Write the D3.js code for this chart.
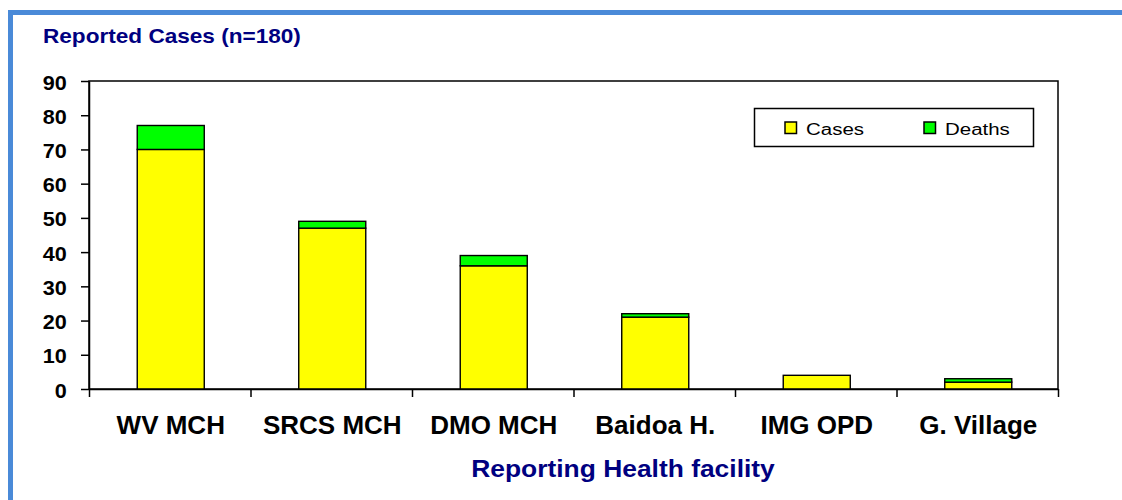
<!doctype html>
<html>
<head>
<meta charset="utf-8">
<script src="https://d3js.org/d3.v7.min.js"></script>
<style>
  body { margin: 0; background: #fff; }
  text { font-family: Arial, "Liberation Sans", sans-serif; }
</style>
</head>
<body>
<script>
  // data
  var facilities = ["WV MCH", "SRCS MCH", "DMO MCH", "Baidoa H.", "IMG OPD", "G. Village"];
  var cases  = [70, 47, 36, 21, 4, 2];
  var deaths = [7, 2, 3, 1, 0, 1];
  var yTicks = [0, 10, 20, 30, 40, 50, 60, 70, 80, 90];
  var seriesNames = ["Cases", "Deaths"];
  var seriesColors = ["#ffff00", "#00ff00"];

  var width = 1122, height = 500;
  var plot = { left: 89, right: 1058, top: 81, bottom: 389 };

  var svg = d3.select("body").append("svg")
    .attr("width", width).attr("height", height);

  svg.append("rect").attr("width", width).attr("height", height).attr("fill", "#fff");

  // blue frame
  svg.append("rect")
    .attr("x", 10.5).attr("y", 12.5)
    .attr("width", 1300).attr("height", 700)
    .attr("fill", "none").attr("stroke", "#4a8ad8").attr("stroke-width", 5);

  var x = d3.scaleBand().domain(facilities).range([plot.left, plot.right]).padding(0);
  var xEdge = d3.scaleLinear().domain([0, facilities.length]).range([plot.left, plot.right]);
  var y = d3.scaleLinear().domain([0, 90]).range([plot.bottom, plot.top]);

  // plot area border (top + right)
  svg.append("rect")
    .attr("x", plot.left).attr("y", plot.top)
    .attr("width", plot.right - plot.left).attr("height", plot.bottom - plot.top)
    .attr("fill", "none").attr("stroke", "#000").attr("stroke-width", 1.5);

  // stacked bars
  var table = facilities.map(function(f, i){ return { name: f, Cases: cases[i], Deaths: deaths[i] }; });
  var stacked = d3.stack().keys(seriesNames)(table);
  var barW = x.bandwidth() * 0.415;

  svg.append("g").selectAll("g")
    .data(stacked).enter().append("g")
      .attr("fill", function(d, i){ return seriesColors[i]; })
    .selectAll("rect")
    .data(function(d){ return d.filter(function(p){ return p[1] - p[0] > 0; }); })
    .enter().append("rect")
      .attr("x", function(d){ return x(d.data.name) + (x.bandwidth() - barW) / 2 + 1; })
      .attr("width", barW)
      .attr("y", function(d){ return y(d[1]); })
      .attr("height", function(d){ return y(d[0]) - y(d[1]); })
      .attr("stroke", "#000").attr("stroke-width", 1.4);

  // y axis
  var yAxis = svg.append("g")
    .attr("transform", "translate(" + plot.left + ",0)")
    .call(d3.axisLeft(y).tickValues(yTicks).tickSize(8).tickSizeOuter(0));
  yAxis.select(".domain").attr("stroke-width", 1.5);
  yAxis.selectAll(".tick line").attr("stroke-width", 1.5);
  yAxis.selectAll(".tick text")
    .attr("x", 0).attr("dy", "0.4em")
    .attr("transform", "translate(-22.3,0) scale(1.08,1)")
    .style("font-size", "20px").style("font-weight", "bold").attr("fill", "#000");

  // x axis: boundary ticks
  var xAxis = svg.append("g")
    .attr("transform", "translate(0," + plot.bottom + ")")
    .call(d3.axisBottom(xEdge).tickValues(d3.range(facilities.length + 1)).tickSize(8).tickSizeOuter(0).tickFormat(""));
  xAxis.select(".domain").attr("stroke-width", 1.5);
  xAxis.selectAll(".tick line").attr("stroke-width", 1.5);

  // x axis: category labels
  var xLabels = svg.append("g")
    .attr("transform", "translate(1," + plot.bottom + ")")
    .call(d3.axisBottom(x).tickSize(0));
  xLabels.select(".domain").remove();
  xLabels.selectAll(".tick text")
    .attr("y", 45).attr("dy", 0)
    .style("font-size", "26px").style("font-weight", "bold").attr("fill", "#000");

  // titles
  svg.append("text")
    .attr("transform", "translate(43,43) scale(1.076,1)")
    .attr("fill", "#000080").style("font-size", "21px").style("font-weight", "bold")
    .text("Reported Cases (n=180)");

  svg.append("text")
    .attr("transform", "translate(623,477) scale(1.1,1)")
    .attr("text-anchor", "middle")
    .attr("fill", "#000080").style("font-size", "24px").style("font-weight", "bold")
    .text("Reporting Health facility");

  // legend
  var legend = svg.append("g");
  legend.append("rect")
    .attr("x", 754.5).attr("y", 108.5).attr("width", 279).attr("height", 38)
    .attr("fill", "#fff").attr("stroke", "#000").attr("stroke-width", 1.5);
  var legendX = [785, 924];
  var item = legend.selectAll("g.item").data(seriesNames).enter().append("g")
    .attr("class", "item")
    .attr("transform", function(d, i){ return "translate(" + legendX[i] + ",122)"; });
  item.append("rect")
    .attr("width", 11.5).attr("height", 11.5)
    .attr("fill", function(d, i){ return seriesColors[i]; })
    .attr("stroke", "#000").attr("stroke-width", 1.5);
  item.append("text")
    .attr("transform", "translate(21,13) scale(1.28,1)")
    .style("font-size", "16px").attr("fill", "#000")
    .text(function(d){ return d; });
</script>
</body>
</html>
